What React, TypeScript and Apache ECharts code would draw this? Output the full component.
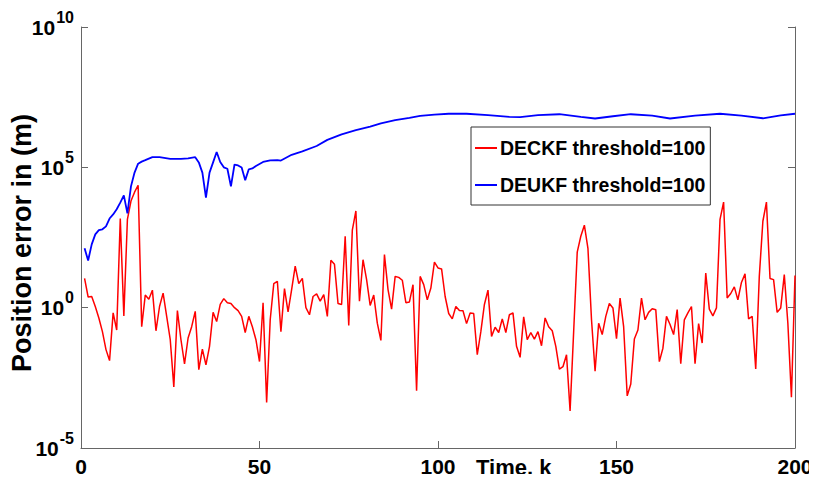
import React, { useEffect, useRef } from "react";
import * as echarts from "echarts";

const xTicks = [0, 50, 100, 150, 200];
const yTickExponents = [-5, 0, 5, 10];

const deckfName = "DECKF threshold=100";
const deukfName = "DEUKF threshold=100";

// DECKF position error, k = 1..200
const deckfError = [
  11, 2.4, 2.5, 1.1, 0.43, 0.14, 0.032, 0.013, 0.65, 0.16,
  1500, 0.51, 1400, 6300, 13000, 23000, 0.21, 2.8, 2.0, 4.2,
  0.15, 1.1, 3.3, 0.49, 0.072, 0.0015, 0.79, 0.072, 0.010, 0.083,
  0.21, 0.74, 0.0062, 0.033, 0.0091, 0.042, 0.68, 0.32, 1.3, 2.1,
  1.5, 1.4, 1.0, 0.78, 0.49, 0.13, 0.49, 0.21, 0.072, 0.012,
  1.5, 0.00042, 0.37, 7.2, 8.7, 0.14, 4.8, 0.71, 4.4, 30,
  7.2, 11, 1.0, 0.56, 2.5, 3.1, 1.7, 2.9, 0.49, 49,
  35, 1.4, 1.3, 350, 0.23, 580, 2800, 1.7, 51, 10,
  1.2, 2.8, 0.28, 0.068, 78, 4.4, 0.89, 13, 12, 9.5,
  1.5, 1.6, 6.6, 0.0011, 13, 6.6, 1.9, 5.0, 42, 26,
  24, 2.5, 0.62, 0.40, 1.1, 0.79, 0.78, 0.27, 0.65, 0.62,
  0.021, 0.14, 1.3, 4.2, 0.095, 0.20, 0.13, 0.40, 0.13, 0.56,
  0.65, 0.042, 0.017, 0.47, 0.072, 0.13, 0.076, 0.14, 0.044, 0.43,
  0.21, 0.15, 0.042, 0.0065, 0.0079, 0.021, 0.00021, 0.14, 95, 350,
  870, 130, 0.37, 0.0054, 0.28, 0.11, 0.49, 1.4, 0.98, 0.079,
  2.2, 0.21, 0.00072, 0.0019, 0.076, 0.16, 2.2, 0.37, 0.68, 0.91,
  0.85, 0.012, 0.036, 0.49, 0.25, 0.11, 0.85, 0.010, 0.37, 0.65,
  1.1, 0.010, 0.27, 0.055, 17, 0.89, 0.51, 0.98, 1400, 5800,
  2.2, 3.2, 5.5, 1.9, 7.9, 16, 0.40, 0.49, 0.0065, 13,
  1200, 5800, 11, 10, 0.68, 0.98, 15, 0.28, 0.00065, 14,
];

// DEUKF position error, read at these time steps
const deukfSteps = [
  1, 2, 3, 4, 5, 6, 7, 8, 9, 10, 11, 12, 13, 14, 15, 16, 17, 18, 20, 22,
  25, 28, 30, 32, 33, 34, 35, 36, 37, 38, 39, 40, 41, 42, 43, 44, 45, 46,
  47, 48, 49, 51, 53, 55, 56, 59, 62, 66, 69, 73, 77, 81, 84, 88, 92, 95,
  99, 103, 108, 114, 120, 123, 128, 134, 140, 144, 149, 154, 160, 165, 172,
  179, 185, 191, 196, 200,
];
const deukfError = [
  130, 48, 180, 410, 580, 620, 790, 1500, 2100, 3200, 5500, 10000, 2300,
  21000, 65000, 1.35e5, 1.6e5, 1.8e5, 2.3e5, 2.3e5,
  2.0e5, 2.0e5, 2.1e5, 2.3e5, 1.5e5, 6.5e4, 8.3e3, 6.5e4, 1.5e5, 3.5e5,
  1.55e5, 1.0e5, 8.9e4, 2.1e4, 1.26e5, 1.17e5, 9.8e4, 3.5e4,
  8.5e4, 9.1e4, 1.12e5, 1.55e5, 1.78e5, 1.82e5, 1.74e5, 2.8e5, 3.7e5,
  5.75e5, 9.5e5, 1.5e6, 2.1e6, 2.8e6, 3.7e6, 4.8e6, 5.8e6, 6.8e6,
  7.6e6, 8.1e6, 8.1e6, 7.2e6, 6.3e6, 6.2e6, 7.2e6, 7.8e6, 6.3e6, 5.5e6,
  6.6e6, 7.8e6, 6.9e6, 5.5e6, 6.9e6, 8.1e6, 6.9e6, 5.6e6, 7.1e6, 8.1e6,
];

const FONT = "'Liberation Sans', Arial, Helvetica, sans-serif";
const AXIS_GRAY = "#666666";

export default function App() {
  const ref = useRef<HTMLDivElement>(null);

  useEffect(() => {
    if (!ref.current) return;
    const chart = echarts.init(ref.current, undefined, { renderer: "svg" });

    const deckfData = deckfError.map((v, i) => [i + 1, v]);
    const deukfData = deukfSteps.map((k, i) => [k, deukfError[i]]);

    const yLabel = (value: number) => {
      const e = Math.round(Math.log10(value));
      return yTickExponents.includes(e) ? `{b|10}{s|${e}}` : "";
    };

    const option: any = {
      animation: false,
      backgroundColor: "#ffffff",
      grid: { left: 81, right: 22, top: 27, bottom: 34, containLabel: false },
      legend: {
        orient: "vertical",
        left: 471,
        top: 127,
        padding: [11, 5, 10, 4],
        itemGap: 17,
        itemWidth: 22,
        itemHeight: 2,
        icon: "rect",
        backgroundColor: "#ffffff",
        borderColor: "#333333",
        borderWidth: 1,
        borderRadius: 0,
        textStyle: {
          fontFamily: FONT,
          fontWeight: "bold",
          fontSize: 19.5,
          color: "#000000",
          padding: [0, 0, 0, -2],
        },
        data: [deckfName, deukfName],
      },
      xAxis: {
        type: "value",
        min: xTicks[0],
        max: xTicks[xTicks.length - 1],
        interval: 50,
        axisLine: { show: true, lineStyle: { color: AXIS_GRAY, width: 1 } },
        axisTick: { show: true, inside: true, length: 7, lineStyle: { color: AXIS_GRAY } },
        splitLine: { show: false },
        axisLabel: {
          margin: 8,
          fontFamily: FONT,
          fontWeight: "bold",
          fontSize: 21,
          color: "#000000",
        },
      },
      yAxis: [
        {
          type: "log",
          logBase: 10,
          min: 1e-5,
          max: 1e10,
          interval: 5,
          axisLine: { show: true, lineStyle: { color: AXIS_GRAY, width: 1 } },
          axisTick: { show: true, inside: true, length: 7, lineStyle: { color: AXIS_GRAY } },
          splitLine: { show: false },
          axisLabel: {
            margin: 7,
            formatter: yLabel,
            rich: {
              b: { fontFamily: FONT, fontWeight: "bold", fontSize: 21, color: "#000", lineHeight: 21 },
              s: {
                fontFamily: FONT,
                fontWeight: "bold",
                fontSize: 16,
                color: "#000",
                padding: [0, 0, 20, 1],
              },
            },
          },
        },
        {
          type: "log",
          logBase: 10,
          min: 1e-5,
          max: 1e10,
          interval: 5,
          position: "right",
          axisLine: { show: true, lineStyle: { color: AXIS_GRAY, width: 1 } },
          axisTick: { show: true, inside: true, length: 7, lineStyle: { color: AXIS_GRAY } },
          splitLine: { show: false },
          axisLabel: { show: false },
        },
      ],
      graphic: [
        {
          type: "text",
          left: 476,
          top: 456,
          style: {
            text: "Time, k",
            font: `bold 22px ${FONT}`,
            fill: "#000",
          },
        },
        {
          type: "text",
          x: 22,
          y: 243,
          rotation: Math.PI / 2,
          style: {
            text: "Position error in (m)",
            font: `bold 27px ${FONT}`,
            fill: "#000",
            align: "center",
            verticalAlign: "middle",
          },
        },
      ],
      series: [
        {
          name: deckfName,
          type: "line",
          data: deckfData,
          showSymbol: false,
          symbol: "none",
          lineStyle: { color: "#ff0000", width: 1.5 },
          itemStyle: { color: "#ff0000" },
          clip: true,
        },
        {
          name: deukfName,
          type: "line",
          data: deukfData,
          showSymbol: false,
          symbol: "none",
          lineStyle: { color: "#0000ff", width: 1.8 },
          itemStyle: { color: "#0000ff" },
          clip: true,
        },
      ],
    };

    chart.setOption(option);
    return () => chart.dispose();
  }, []);

  return <div ref={ref} style={{ width: 817, height: 482, margin: -8 }} />;
}
